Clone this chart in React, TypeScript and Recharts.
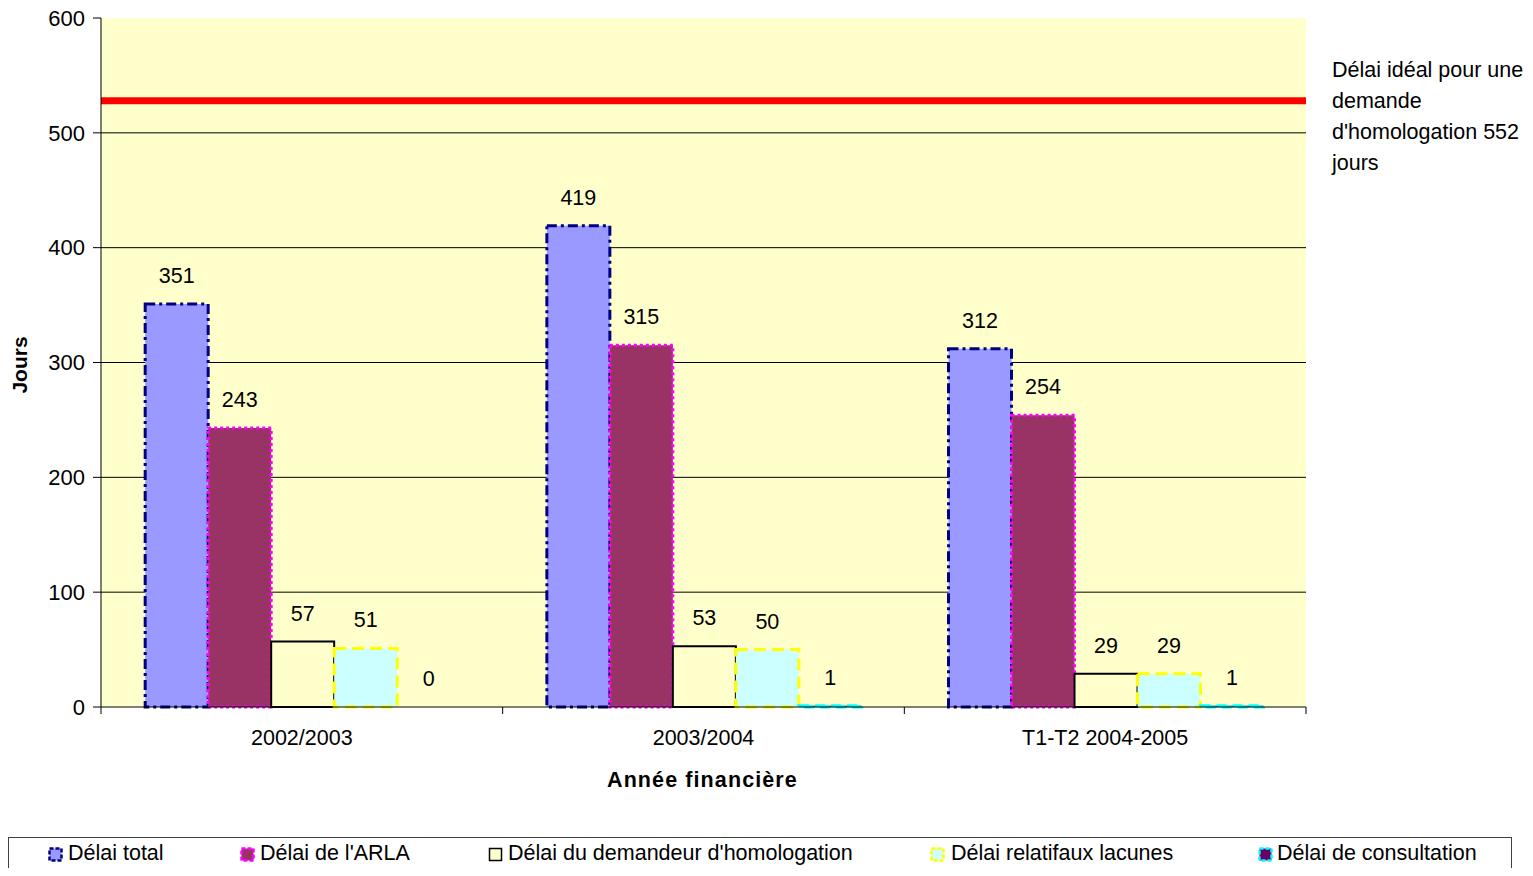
import React from 'react';
import { BarChart, Bar, XAxis, YAxis, CartesianGrid, ReferenceLine, LabelList, Cell } from 'recharts';

const categories = ['2002/2003', '2003/2004', 'T1-T2 2004-2005'];
const delaiTotal = [351, 419, 312];
const delaiArla = [243, 315, 254];
const delaiDemandeur = [57, 53, 29];
const delaiLacunes = [51, 50, 29];
const delaiConsultation = [0, 1, 1];
const idealValue = 528;
const yTicks = [0, 100, 200, 300, 400, 500, 600];
const gridValues = [100, 200, 300, 400, 500];

const data = categories.map((name, i) => ({
  name,
  total: delaiTotal[i],
  arla: delaiArla[i],
  demandeur: delaiDemandeur[i],
  lacunes: delaiLacunes[i],
  consultation: delaiConsultation[i],
}));

const FONT = '"Liberation Sans", Arial, sans-serif';
const FS = 21.5;
const W = 1533;
const H = 876;
const M = { top: 18, right: 227, left: 0, bottom: 139 };
const Y_AXIS_W = 101;
const PLOT_W = W - M.right - M.left - Y_AXIS_W;
const HALF_BAND = PLOT_W / categories.length / 2;

const XTick = (props: any) => {
  const { x, y, payload, index } = props;
  return (
    <g>
      <line x1={x - HALF_BAND} x2={x - HALF_BAND} y1={y} y2={y + 7} stroke="#000" />
      {index === categories.length - 1 && (
        <line x1={x + HALF_BAND} x2={x + HALF_BAND} y1={y} y2={y + 7} stroke="#000" />
      )}
      <text x={x} y={y + 38} textAnchor="middle" fontSize={FS} fontFamily={FONT} fill="#000">
        {payload.value}
      </text>
    </g>
  );
};

const series = [
  { key: 'total', name: 'Délai total', fill: '#9999FF', stroke: '#000080', dash: '10 4 3 4', sw: 3 },
  { key: 'arla', name: "Délai de l'ARLA", fill: '#993366', stroke: '#FF00FF', dash: '3 3', sw: 3 },
  { key: 'demandeur', name: "Délai du demandeur d'homologation", fill: '#FFFFCC', stroke: '#000000', dash: undefined, sw: 2 },
  { key: 'lacunes', name: 'Délai relatifaux lacunes', fill: '#CCFFFF', stroke: '#FFFF00', dash: '12 6', sw: 3 },
  { key: 'consultation', name: 'Délai de consultation', fill: '#660066', stroke: '#00FFFF', dash: '10 6', sw: 3 },
];

const legendX = [
  { icon: 48, text: 68 },
  { icon: 240, text: 260 },
  { icon: 488, text: 508 },
  { icon: 930, text: 951 },
  { icon: 1258, text: 1277 },
];

export default function App() {
  return (
    <div style={{ position: 'relative', width: W, height: H, margin: -8, fontFamily: FONT, background: '#fff' }}>
      <BarChart
        width={W}
        height={H}
        data={data}
        margin={M}
        barCategoryGap="11%"
        barGap={0}
      >
        <CartesianGrid
          horizontalValues={gridValues}
          vertical={false}
          stroke="#000"
          strokeWidth={1}
          fill="#FFFFCC"
          fillOpacity={1}
        />
        <XAxis
          dataKey="name"
          tick={<XTick />}
          tickLine={false}
          tickSize={0}
          tickMargin={0}
          height={30}
          axisLine={{ stroke: '#000', strokeWidth: 1 }}
          interval={0}
        />
        <XAxis
          xAxisId="top"
          dataKey="name"
          orientation="top"
          height={0}
          tick={false}
          tickLine={false}
          axisLine={{ stroke: '#808080', strokeWidth: 2 }}
        />
        <YAxis
          domain={[0, 600]}
          ticks={yTicks}
          width={Y_AXIS_W}
          tickSize={8}
          tickMargin={8}
          interval={0}
          tick={{ fontSize: 22, fontFamily: FONT, fill: '#000' }}
          tickLine={{ stroke: '#000' }}
          axisLine={{ stroke: '#000', strokeWidth: 1 }}
        />
        <YAxis
          yAxisId="r"
          orientation="right"
          domain={[0, 600]}
          width={0}
          tick={false}
          tickLine={false}
          axisLine={{ stroke: '#808080', strokeWidth: 2 }}
        />
        {series.map((s) => (
          <Bar
            key={s.key}
            dataKey={s.key}
            name={s.name}
            fill={s.fill}
            stroke={s.stroke}
            strokeWidth={s.sw}
            strokeDasharray={s.dash}
            minPointSize={s.key === 'consultation' ? 0.01 : 0}
            isAnimationActive={false}
          >
            {data.map((d, i) => (
              <Cell
                key={i}
                fill={s.fill}
                stroke={(d as any)[s.key] === 0 ? 'none' : s.stroke}
              />
            ))}
            <LabelList
              dataKey={s.key}
              position="top"
              offset={21}
              style={{ fontSize: FS, fontFamily: FONT, fill: '#000' }}
            />
          </Bar>
        ))}
        <ReferenceLine y={idealValue} stroke="#FF0000" strokeWidth={7} />
      </BarChart>

      <div
        style={{
          position: 'absolute',
          left: 607,
          top: 768,
          fontSize: 21.5,
          fontWeight: 'bold',
          color: '#000',
          whiteSpace: 'nowrap',
          letterSpacing: 1.1,
        }}
      >
        Année financière
      </div>
      <div
        style={{
          position: 'absolute',
          left: 20,
          top: 365,
          fontSize: 21,
          fontWeight: 'bold',
          color: '#000',
          whiteSpace: 'nowrap',
          transform: 'translate(-50%, -50%) rotate(-90deg)',
        }}
      >
        Jours
      </div>
      <div
        style={{
          position: 'absolute',
          left: 1332,
          top: 55,
          fontSize: FS,
          lineHeight: '31px',
          color: '#000',
          whiteSpace: 'nowrap',
        }}
      >
        <div>Délai idéal pour une</div>
        <div>demande</div>
        <div>d'homologation 552</div>
        <div>jours</div>
      </div>

      <div
        style={{
          position: 'absolute',
          left: 8,
          top: 837,
          width: 1504,
          height: 60,
          border: '1px solid #404040',
          boxSizing: 'border-box',
        }}
      />
      {series.map((s, i) => (
        <React.Fragment key={s.key}>
          <svg
            style={{ position: 'absolute', left: legendX[i].icon, top: 847 }}
            width={15}
            height={15}
          >
            <rect
              x={1.5}
              y={1.5}
              width={12}
              height={12}
              fill={s.fill}
              stroke={s.stroke}
              strokeWidth={s.key === 'demandeur' ? 1.5 : 2.5}
              strokeDasharray={s.dash ? '4 2' : undefined}
            />
          </svg>
          <div
            style={{
              position: 'absolute',
              left: legendX[i].text,
              top: 840,
              fontSize: FS,
              lineHeight: '26px',
              color: '#000',
              whiteSpace: 'nowrap',
            }}
          >
            {s.name}
          </div>
        </React.Fragment>
      ))}
    </div>
  );
}
